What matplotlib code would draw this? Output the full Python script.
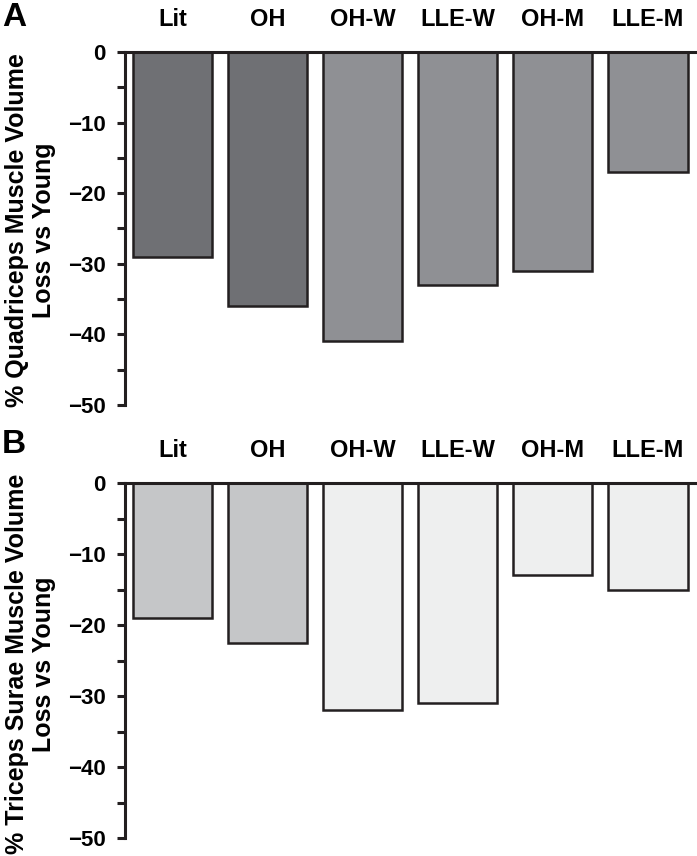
import numpy as np
import matplotlib
matplotlib.use("Agg")
import matplotlib.pyplot as plt
from matplotlib.ticker import MultipleLocator

plt.rcParams['font.family'] = ['Liberation Sans', 'DejaVu Sans']
plt.rcParams['font.weight'] = 'bold'

# Données
groupes = ["Lit", "OH", "OH-W", "LLE-W", "OH-M", "LLE-M"]
quadriceps = [-29, -36, -41, -33, -31, -17]
triceps = [-19, -22.5, -32, -31, -13, -15]
couleurs_a = ["#6f7074", "#6f7074", "#8f9094", "#8f9094", "#8f9094", "#8f9094"]
couleurs_b = ["#c5c6c8", "#c5c6c8", "#eeefef", "#eeefef", "#eeefef", "#eeefef"]

W, H = 697, 856
fig = plt.figure(figsize=(W/100, H/100), dpi=100)


def panneau(rect, valeurs, couleurs, lettre, lettre_y, ylabel, ylab_y):
    ax = fig.add_axes(rect)
    x = np.arange(len(groupes))
    ax.bar(x, valeurs, width=0.84, color=couleurs, edgecolor="#231f20", linewidth=1.8)
    ax.set_xlim(-0.5, 5.5)
    ax.set_ylim(-50, 0)
    ax.xaxis.tick_top()
    ax.set_xticks(x)
    ax.set_xticklabels(groupes, fontsize=17, fontweight='bold')
    ax.tick_params(axis='x', length=0, pad=15)
    ax.yaxis.set_major_locator(MultipleLocator(10))
    ax.yaxis.set_minor_locator(MultipleLocator(5))
    ax.tick_params(axis='y', which='both', direction='out', width=2.2, length=6,
                   labelsize=16, color="#231f20", pad=8)
    for lab in ax.get_yticklabels():
        lab.set_fontweight('bold')
    for s in ['right', 'bottom']:
        ax.spines[s].set_visible(False)
    for s in ['left', 'top']:
        ax.spines[s].set_linewidth(2.2)
        ax.spines[s].set_color("#231f20")
    fig.text(0.003, lettre_y, lettre, fontsize=24, fontweight='bold',
             va='center', ha='left')
    fig.text(0.044, ylab_y, ylabel, rotation=90, fontsize=18, fontweight='bold',
             ha='center', va='center', multialignment='center', linespacing=1.15)
    return ax


panneau([0.1793, 0.5269, 0.818, 0.4124], quadriceps, couleurs_a, "A", 1 - 18/856,
        "% Quadriceps Muscle Volume\nLoss vs Young", 1 - 230/856)
panneau([0.1793, 0.021, 0.818, 0.4147], triceps, couleurs_b, "B", 1 - 445/856,
        "% Triceps Surae Muscle Volume\nLoss vs Young", 1 - 664/856)

fig.savefig("out.png", dpi=100)
